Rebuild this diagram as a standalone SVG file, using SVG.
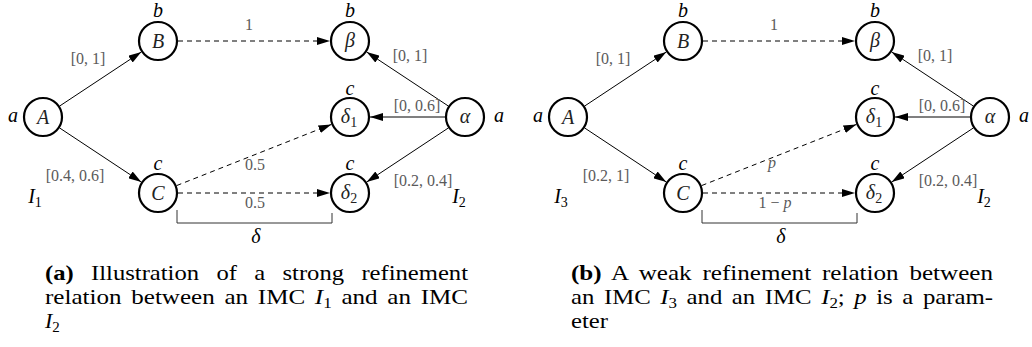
<svg xmlns="http://www.w3.org/2000/svg" width="1032" height="347" viewBox="0 0 1032 347" font-family="Liberation Serif">
  <style>
    .node { fill: #fff; stroke: #000; stroke-width: 2.2; }
    .sym { font-style: italic; font-size: 20px; fill: #222; text-anchor: middle; }
    .lab { font-style: italic; font-size: 20px; fill: #000; text-anchor: middle; }
    .edge { stroke: #000; stroke-width: 1; fill: none; }
    .dash { stroke-dasharray: 5 4; }
    .elab { font-size: 16px; fill: #5a5a5a; text-anchor: middle; }
    .brace { stroke: #333; stroke-width: 1; fill: none; }
    .cap { font-size: 22px; fill: #000; }
    .it { font-style: italic; }
    .bf { font-weight: bold; }
  </style>
  <defs>
    <marker id="arr" markerUnits="userSpaceOnUse" markerWidth="13" markerHeight="8" refX="13" refY="4" orient="auto">
      <path d="M0,0 L13,4 L0,8 Z" fill="#000"/>
    </marker>
  </defs>

  <!-- (a) strong refinement -->
  <g id="panel-a">
    <g id="edges-a">
      <line class="edge" x1="59.7" y1="106" x2="141.3" y2="52" marker-end="url(#arr)"/>
      <line class="edge" x1="59.7" y1="128" x2="141.3" y2="182" marker-end="url(#arr)"/>
      <line class="edge dash" x1="178" y1="41" x2="330" y2="41" marker-end="url(#arr)"/>
      <line class="edge dash" x1="176.6" y1="185.6" x2="331.4" y2="124.4" marker-end="url(#arr)"/>
      <line class="edge dash" x1="178" y1="193" x2="330" y2="193" marker-end="url(#arr)"/>
      <line class="edge" x1="448.3" y1="106" x2="366.7" y2="52" marker-end="url(#arr)"/>
      <line class="edge" x1="445" y1="117" x2="370" y2="117" marker-end="url(#arr)"/>
      <line class="edge" x1="448.3" y1="128" x2="366.7" y2="182" marker-end="url(#arr)"/>
      <path class="brace" d="M177,210 V223 H332 V213"/>
      <text class="elab" x="88" y="64">[0, 1]</text>
      <text class="elab" x="249" y="30">1</text>
      <text class="elab" x="410" y="61">[0, 1]</text>
      <text class="elab" x="417" y="111">[0, 0.6]</text>
      <text class="elab" x="255" y="170">0.5</text>
      <text class="elab" x="255" y="208">0.5</text>
      <text class="elab" x="75" y="181">[0.4, 0.6]</text>
      <text class="elab" x="423" y="186">[0.2, 0.4]</text>
      <text class="lab" x="256" y="243">δ</text>
    </g>
    <g id="a-A"><circle class="node" cx="43" cy="117" r="19"/><text class="sym" x="43" y="124">A</text><text class="lab" x="13" y="122">a</text></g>
    <g id="a-B"><circle class="node" cx="158" cy="41" r="19"/><text class="sym" x="158" y="48">B</text><text class="lab" x="158" y="17">b</text></g>
    <g id="a-C"><circle class="node" cx="158" cy="193" r="19"/><text class="sym" x="158" y="200">C</text><text class="lab" x="158" y="170">c</text></g>
    <g id="a-beta"><circle class="node" cx="350" cy="41" r="19"/><text class="sym" x="350" y="47" fill="#555">β</text><text class="lab" x="350" y="17">b</text></g>
    <g id="a-delta1"><circle class="node" cx="350" cy="117" r="19"/><text class="sym" x="349" y="123">δ<tspan font-size="14" font-style="normal" dy="4">1</tspan></text><text class="lab" x="350" y="95">c</text></g>
    <g id="a-delta2"><circle class="node" cx="350" cy="193" r="19"/><text class="sym" x="349" y="199">δ<tspan font-size="14" font-style="normal" dy="4">2</tspan></text><text class="lab" x="350" y="170">c</text></g>
    <g id="a-alpha"><circle class="node" cx="465" cy="117" r="19"/><text class="sym" x="465" y="123">α</text><text class="lab" x="499" y="122">a</text></g>
    <text class="lab" x="35" y="203" text-anchor="start">I<tspan font-size="14" font-style="normal" dy="4">1</tspan></text>
    <text class="lab" x="459" y="203" text-anchor="start">I<tspan font-size="14" font-style="normal" dy="4">2</tspan></text>
    <g id="caption-a">
      <text class="cap" x="45" y="280" textLength="423" lengthAdjust="spacingAndGlyphs" word-spacing="10"><tspan class="bf">(a)</tspan> Illustration of a strong refinement</text>
      <text class="cap" x="45" y="304" textLength="423" lengthAdjust="spacingAndGlyphs" word-spacing="3">relation between an IMC <tspan class="it">I</tspan><tspan font-size="15" dy="4">1</tspan><tspan dy="-4"> and an IMC</tspan></text>
      <text class="cap" x="45" y="328"><tspan class="it">I</tspan><tspan font-size="15" dy="4">2</tspan></text>
    </g>
  </g>

  <!-- (b) weak refinement -->
  <g id="panel-b" transform="translate(525,0)">
    <g id="edges-b">
      <line class="edge" x1="59.7" y1="106" x2="141.3" y2="52" marker-end="url(#arr)"/>
      <line class="edge" x1="59.7" y1="128" x2="141.3" y2="182" marker-end="url(#arr)"/>
      <line class="edge dash" x1="178" y1="41" x2="330" y2="41" marker-end="url(#arr)"/>
      <line class="edge dash" x1="176.6" y1="185.6" x2="331.4" y2="124.4" marker-end="url(#arr)"/>
      <line class="edge dash" x1="178" y1="193" x2="330" y2="193" marker-end="url(#arr)"/>
      <line class="edge" x1="448.3" y1="106" x2="366.7" y2="52" marker-end="url(#arr)"/>
      <line class="edge" x1="445" y1="117" x2="370" y2="117" marker-end="url(#arr)"/>
      <line class="edge" x1="448.3" y1="128" x2="366.7" y2="182" marker-end="url(#arr)"/>
      <path class="brace" d="M177,210 V223 H332 V213"/>
      <text class="elab" x="88" y="64">[0, 1]</text>
      <text class="elab" x="249" y="30">1</text>
      <text class="elab" x="410" y="61">[0, 1]</text>
      <text class="elab" x="417" y="111">[0, 0.6]</text>
      <text class="elab" x="247" y="168" font-style="italic">p</text>
      <text class="elab" x="250" y="208">1 − <tspan font-style="italic">p</tspan></text>
      <text class="elab" x="81" y="181">[0.2, 1]</text>
      <text class="elab" x="423" y="186">[0.2, 0.4]</text>
      <text class="lab" x="256" y="243">δ</text>
    </g>
    <g id="b-A"><circle class="node" cx="43" cy="117" r="19"/><text class="sym" x="43" y="124">A</text><text class="lab" x="13" y="122">a</text></g>
    <g id="b-B"><circle class="node" cx="158" cy="41" r="19"/><text class="sym" x="158" y="48">B</text><text class="lab" x="158" y="17">b</text></g>
    <g id="b-C"><circle class="node" cx="158" cy="193" r="19"/><text class="sym" x="158" y="200">C</text><text class="lab" x="158" y="170">c</text></g>
    <g id="b-beta"><circle class="node" cx="350" cy="41" r="19"/><text class="sym" x="350" y="47" fill="#555">β</text><text class="lab" x="350" y="17">b</text></g>
    <g id="b-delta1"><circle class="node" cx="350" cy="117" r="19"/><text class="sym" x="349" y="123">δ<tspan font-size="14" font-style="normal" dy="4">1</tspan></text><text class="lab" x="350" y="95">c</text></g>
    <g id="b-delta2"><circle class="node" cx="350" cy="193" r="19"/><text class="sym" x="349" y="199">δ<tspan font-size="14" font-style="normal" dy="4">2</tspan></text><text class="lab" x="350" y="170">c</text></g>
    <g id="b-alpha"><circle class="node" cx="465" cy="117" r="19"/><text class="sym" x="465" y="123">α</text><text class="lab" x="499" y="122">a</text></g>
    <text class="lab" x="36" y="203" text-anchor="start">I<tspan font-size="14" font-style="normal" dy="4">3</tspan></text>
    <text class="lab" x="459" y="203" text-anchor="start">I<tspan font-size="14" font-style="normal" dy="4">2</tspan></text>
    <g id="caption-b">
      <text class="cap" x="46" y="280" textLength="422" lengthAdjust="spacingAndGlyphs" word-spacing="4"><tspan class="bf">(b)</tspan> A weak refinement relation between</text>
      <text class="cap" x="46" y="304" textLength="422" lengthAdjust="spacingAndGlyphs" word-spacing="3">an IMC <tspan class="it">I</tspan><tspan font-size="15" dy="4">3</tspan><tspan dy="-4"> and an IMC </tspan><tspan class="it">I</tspan><tspan font-size="15" dy="4">2</tspan><tspan dy="-4">; </tspan><tspan class="it">p</tspan> is a param-</text>
      <text class="cap" x="46" y="328" textLength="37" lengthAdjust="spacingAndGlyphs">eter</text>
    </g>
  </g>
</svg>
